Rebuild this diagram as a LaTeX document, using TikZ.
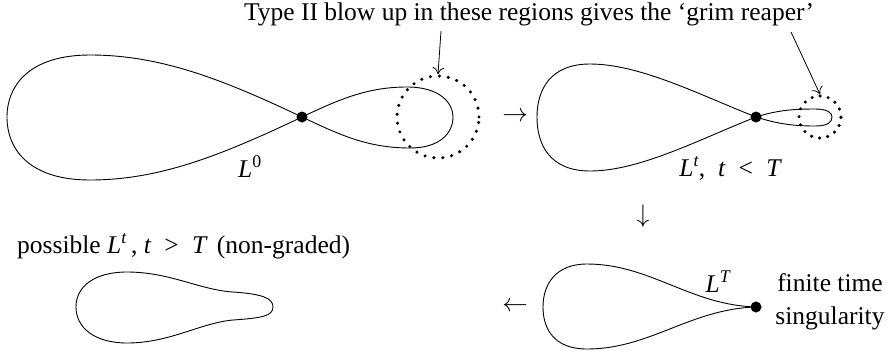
\documentclass[tikz,border=0pt]{standalone}
\usepackage{fix-cm}
\usepackage{fontspec}
\setmainfont{Liberation Serif}
\usetikzlibrary{arrows.meta}
\begin{document}
\begin{tikzpicture}[x=1pt,y=-1pt,
  font=\fontsize{25.5}{33}\selectfont,
  curve/.style={line width=0.9pt},
  dotring/.style={draw, circle, inner sep=0pt, line width=3.4pt, dash pattern=on 0pt off 9pt, line cap=round},
  pt/.style={circle, fill, inner sep=0pt, minimum size=11pt},
  lbl/.style={inner sep=0pt},
  ptr/.style={-{To[length=7pt,width=12pt]}, line width=0.8pt}]
\useasboundingbox (0,0) rectangle (891,354);

% title
\node[lbl, anchor=base] (title) at (529,20) {Type II blow up in these regions gives the ‘grim reaper’};

% ---------- L^0 ----------
\node[pt] (c1) at (302,117) {};
\draw[curve] (c1.center) .. controls (222,79) and (160,55) .. (90,55)
  .. controls (30,55) and (7,85) .. (7,117)
  .. controls (7,150) and (30,180) .. (90,180)
  .. controls (160,180) and (222,155) .. (c1.center);
\draw[curve] (c1.center) .. controls (340,99) and (368,87) .. (407,87)
  .. controls (440,87) and (453,103) .. (453,117)
  .. controls (453,133) and (440,148) .. (410,148)
  .. controls (368,148) and (340,135) .. (c1.center);
\node[dotring, minimum size=82pt] (ring1) at (438,117) {};
\coordinate (s1) at (441,31);
\draw[ptr] (s1) -- (ring1.north);
\node[lbl, anchor=base] (l0) at (250,177) {{\itshape L}\textsuperscript{0}};

% arrow right
\node[lbl] (ar1) at (515,117) {$\rightarrow$};

% ---------- L^t, t<T ----------
\node[pt] (c2) at (756,117) {};
\draw[curve] (c2.center) .. controls (700,95) and (640,64) .. (590,64)
  .. controls (550,64) and (537,90) .. (537,117)
  .. controls (537,145) and (550,171) .. (590,171)
  .. controls (640,171) and (700,139) .. (c2.center);
\draw[curve] (c2.center) .. controls (775,111) and (790,109) .. (815,109)
  .. controls (828,109) and (832,113) .. (832,117)
  .. controls (832,122) and (828,126) .. (815,126)
  .. controls (790,126) and (775,123) .. (c2.center);
\node[dotring, minimum size=42pt, dash pattern=on 0pt off 8.2pt] (ring2) at (820,117) {};
\coordinate (s2) at (791,32);
\draw[ptr] (s2) -- (ring2.north);
\node[lbl, anchor=base] (lt) at (730,176) {{\itshape L}\textsuperscript{\itshape t}, \ {\itshape t} \;<\; {\itshape T}};

% arrow down
\node[lbl] (ar2) at (643,216) {$\downarrow$};

% ---------- L^T ----------
\node[pt] (c3) at (756,307) {};
\draw[curve] (c3.center) .. controls (690,305) and (650,264) .. (587,264)
  .. controls (555,264) and (543,285) .. (543,307)
  .. controls (543,330) and (555,349) .. (587,349)
  .. controls (650,349) and (690,309) .. (c3.center);
\node[lbl, anchor=base] (lT) at (718,292) {{\itshape L}\textsuperscript{\itshape T}};
\node[lbl, align=center] (fin) at (830,302) {finite time\\singularity};

% arrow left
\node[lbl] (ar3) at (515,307) {$\leftarrow$};

% ---------- possible L^t, t>T ----------
\node[lbl, anchor=base west] (poss) at (17,253) {possible {\itshape L}\textsuperscript{\itshape t}\,, {\itshape t} \;>\; {\itshape T} \,(non-graded)};
\draw[curve] (127,272) .. controls (170,272) and (200,290) .. (233,292)
  .. controls (262,294) and (273,298) .. (273,307)
  .. controls (273,316) and (262,318) .. (233,320)
  .. controls (200,323) and (170,343) .. (127,343)
  .. controls (95,343) and (76,328) .. (76,307)
  .. controls (76,286) and (95,272) .. cycle;
\end{tikzpicture}
\end{document}
